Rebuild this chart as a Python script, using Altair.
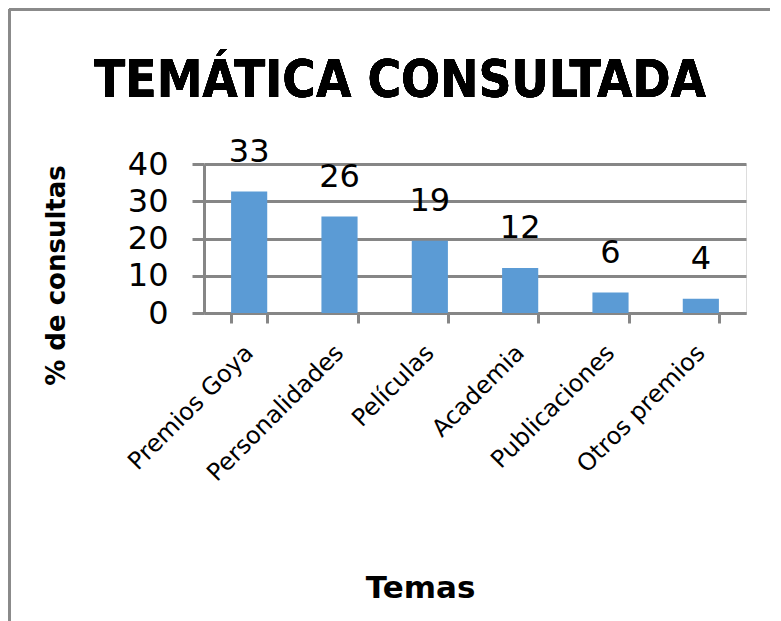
import altair as alt
import pandas as pd

titulo = "TEMÁTICA CONSULTADA"
temas = ["Premios Goya", "Personalidades", "Películas", "Academia", "Publicaciones", "Otros premios"]
porcentajes = [32.6, 25.9, 19.4, 12.1, 5.5, 3.8]
etiquetas = ["33", "26", "19", "12", "6", "4"]
ticks_y = [0, 10, 20, 30, 40]

df = pd.DataFrame({"tema": temas, "pct": porcentajes, "etq": etiquetas})

GRAY = "#868686"
W, H = 542, 149
PL, PT = 196, 156

x = alt.X(
    "tema:N",
    sort=temas,
    scale=alt.Scale(paddingInner=0.6, paddingOuter=0.3),
    axis=alt.Axis(
        title="Temas",
        titleFont="DejaVu Sans",
        titleFontSize=31,
        titleFontWeight="bold",
        titleColor="black",
        titleX=216,
        titleY=284,
        titleAlign="center",
        titleBaseline="alphabetic",
        labelAngle=-45,
        labelAlign="right",
        labelBaseline="middle",
        labelFont="DejaVu Sans",
        labelFontSize=24,
        labelColor="black",
        labelPadding=26,
        labelLimit=600,
        labelOverlap=False,
        tickBand="extent",
        tickSize=10,
        tickWidth=3,
        tickColor=GRAY,
        domainColor=GRAY,
        domainWidth=3,
        grid=False,
    ),
)

y = alt.Y(
    "pct:Q",
    scale=alt.Scale(domain=[0, 40], nice=False),
    axis=alt.Axis(
        title="% de consultas",
        titleFont="DejaVu Sans",
        titleFontSize=26,
        titleFontWeight="bold",
        titleColor="black",
        titleAngle=270,
        titleX=-148,
        titleY=111,
        titleAlign="center",
        titleBaseline="middle",
        values=ticks_y,
        labelOverlap=False,
        labelFont="DejaVu Sans",
        labelFontSize=32,
        labelColor="black",
        labelPadding=24,
        tickSize=12,
        tickWidth=3,
        tickColor=GRAY,
        domainColor=GRAY,
        domainWidth=3,
        gridColor=GRAY,
        gridWidth=3,
    ),
)

bars = alt.Chart(df).mark_bar(color="#5B9BD5").encode(x=x, y=y)
labels = alt.Chart(df).mark_text(
    font="DejaVu Sans", fontSize=32, color="black", baseline="alphabetic", dy=-30
).encode(x=x, y=y, text="etq:N")

frame_top = alt.Chart(df).mark_rule(color="#8a8a8a", strokeWidth=3).encode(
    x=alt.value(-PL + 1), x2=alt.value(770 - 8 - PL), y=alt.value(-PT + 1)
)
frame_left = alt.Chart(df).mark_rule(color="#8a8a8a", strokeWidth=3).encode(
    x=alt.value(-PL + 1), y=alt.value(-PT + 1), y2=alt.value(613 - PT)
)
title_mark = alt.Chart(df).mark_text(
    font="DejaVu Sans Condensed",
    fontSize=51,
    fontWeight="bold",
    color="black",
    align="center",
    baseline="alphabetic",
).encode(x=alt.value(400 - 204), y=alt.value(97 - 164), text=alt.value(titulo))

chart = (
    alt.layer(bars, labels, frame_top, frame_left, title_mark)
    .properties(
        width=W,
        height=H,
        autosize=alt.AutoSizeParams(type="none"),
        padding={"left": PL, "top": PT, "right": 765 - PL - W, "bottom": 613 - PT - H},
    )
    .configure_view(stroke=None)
    .configure(background="white")
)

chart.save("out.html", embed_options={"renderer": "svg", "actions": False})
